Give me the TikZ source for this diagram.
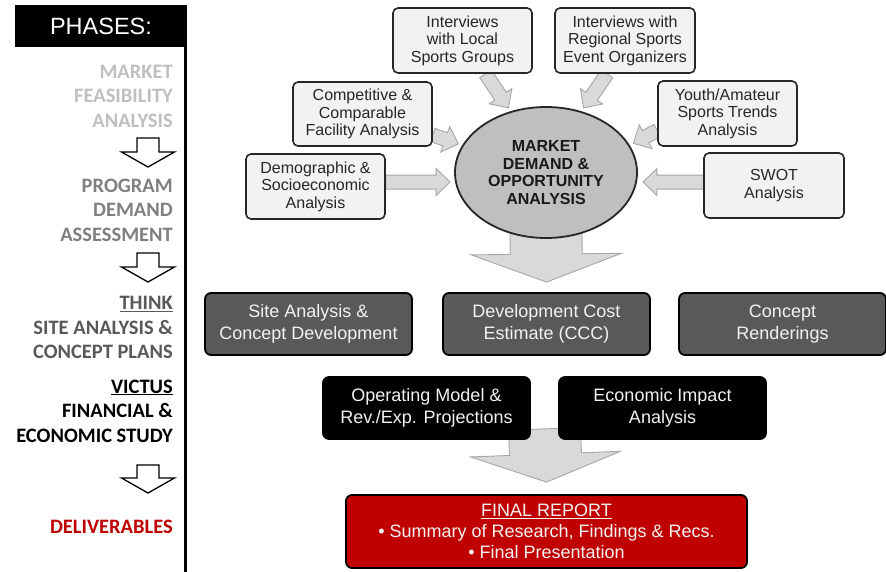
\documentclass[tikz,border=0pt]{standalone}
\usepackage{fontspec}
\setmainfont{Liberation Sans}
\newfontfamily\phasefont{Carlito}
\usetikzlibrary{calc, shapes.geometric, backgrounds}

\definecolor{boxgray}{HTML}{F2F2F2}
\definecolor{arrowgray}{HTML}{D9D9D9}
\definecolor{arrowline}{HTML}{A6A6A6}
\definecolor{ovalgray}{HTML}{BFBFBF}
\definecolor{darkbox}{HTML}{595959}
\definecolor{reportred}{HTML}{C00000}
\definecolor{phaseA}{HTML}{BFBFBF}
\definecolor{phaseB}{HTML}{7F7F7F}
\definecolor{phaseC}{HTML}{595959}

% block arrow: [style]{from}{to}{shaft half width}{head half width}{head length}
\newcommand{\blockarrow}[6][]{%
    \draw[#1] let \p1=(#2), \p2=(#3),
        \n1={atan2(\y2-\y1,\x2-\x1)}, \n2={veclen(\x2-\x1,\y2-\y1)} in
        [shift={(\p1)}, rotate=\n1]
        (0,#4) -- (\n2-#6,#4) -- (\n2-#6,#5) -- (\n2,0) -- (\n2-#6,-#5) -- (\n2-#6,-#4) -- (0,-#4) -- cycle;
}

\begin{document}
\begin{tikzpicture}[x=1pt, y=-1pt,
    inbox/.style={draw=black!85, line width=1.6pt, fill=boxgray, rounded corners=5pt,
        minimum width=139pt, minimum height=65pt, inner sep=0pt, align=center,
        text=black!85, font=\fontsize{16}{17.5}\selectfont},
    taskbox/.style={draw=black, line width=1.8pt, rounded corners=6pt,
        minimum width=207pt, minimum height=62pt, inner sep=0pt, align=center,
        text=white!95!black, font=\fontsize{18}{21.5}\selectfont},
    phase/.style={anchor=east, align=right, inner sep=0pt,
        font=\phasefont\bfseries\fontsize{20.5}{24.5}\selectfont},
    greyarrow/.style={fill=arrowgray, draw=arrowline, line width=0.9pt},
    hollow/.style={fill=white, draw=black, line width=1.3pt}]
    \useasboundingbox (0,0) rectangle (886,572);

    % phases column
    \node[fill=black, text=white, minimum width=172pt, minimum height=42pt, inner sep=0pt,
        font=\fontsize{23.5}{26}\selectfont] (phases) at (101,26) {PHASES:};
    \draw[line width=3pt] ($(phases.south east)+(-1.5,0)$) -- ++(0,525);

    \node[phase, text=phaseA] (mfa) at (173,96) {MARKET\\FEASIBILITY\\ANALYSIS};
    \node[phase, text=phaseB] (pda) at (173,210) {PROGRAM\\DEMAND\\ASSESSMENT};
    \node[phase, text=phaseC] (think) at (173,327.5) {\underline{THINK}\\SITE ANALYSIS \&\\CONCEPT PLANS};
    \node[phase, text=black] (victus) at (173,411) {\underline{VICTUS}\\FINANCIAL \&\\ECONOMIC STUDY};
    \node[phase, text=reportred] (deliv) at (173,527) {DELIVERABLES};

    \coordinate (step1a) at (148,138);
    \coordinate (step1b) at (148,167);
    \coordinate (step2a) at (148,253);
    \coordinate (step2b) at (148,282);
    \coordinate (step3a) at (148,465);
    \coordinate (step3b) at (148,493);
    \blockarrow[hollow]{step1a}{step1b}{11}{26.5}{15}
    \blockarrow[hollow]{step2a}{step2b}{11}{26.5}{15}
    \blockarrow[hollow]{step3a}{step3b}{11}{26.5}{15}

    % market demand inputs
    \node[ellipse, draw=black!85, line width=1.8pt, fill=ovalgray, minimum width=182pt,
        minimum height=131pt, inner sep=0pt, align=center, text=black!90,
        font=\bfseries\fontsize{16}{17.5}\selectfont] (mkt) at (546,172.5)
        {MARKET\\DEMAND \&\\OPPORTUNITY\\ANALYSIS};

    \node[inbox] (local) at (462.5,40.5) {Interviews\\with Local\\Sports Groups};
    \node[inbox, minimum width=140pt] (regional) at (625,40.5) {Interviews with\\Regional Sports\\Event Organizers};
    \node[inbox, minimum height=64pt] (comp) at (362.5,114) {Competitive \&\\Comparable\\Facility Analysis};
    \node[inbox] (youth) at (727.5,113.5) {Youth/Amateur\\Sports Trends\\Analysis};
    \node[inbox] (demo) at (315.5,186.5) {Demographic \&\\Socioeconomic\\Analysis};
    \node[inbox, minimum width=140pt] (swot) at (774,185.5) {SWOT\\Analysis};

    % work tasks
    \node[taskbox, fill=darkbox] (site) at (308.5,324) {Site Analysis \&\\Concept Development};
    \node[taskbox, fill=darkbox] (dev) at (546.5,324) {Development Cost\\Estimate (CCC)};
    \node[taskbox, fill=darkbox] (rend) at (782.5,324) {Concept\\Renderings};
    \node[taskbox, fill=black] (opm) at (426.5,408) {Operating Model \&\\Rev./Exp. Projections};
    \node[taskbox, fill=black] (eia) at (662.5,408) {Economic Impact\\Analysis};

    \node[taskbox, fill=reportred, minimum width=401pt, minimum height=73pt,
        font=\fontsize{18}{21}\selectfont] (report) at (546.5,531.5)
        {\underline{FINAL REPORT}\\\textbullet\ Summary of Research, Findings \& Recs.\\\textbullet\ Final Presentation};

    \coordinate (localout) at ($(local.south)+(23,0)$);
    \coordinate (regout) at ($(regional.south)+(-18,0)$);
    \coordinate (compout) at ($(comp.east)+(0,21)$);
    \coordinate (youthout) at ($(youth.west)+(0,17)$);
    \coordinate (split) at ($(opm.south east)!0.5!(eia.south west)$);

    \begin{pgfonlayer}{background}
        \blockarrow[greyarrow]{localout}{$(mkt.120)!4pt!(localout)$}{7}{13.5}{14}
        \blockarrow[greyarrow]{regout}{$(mkt.60)!4pt!(regout)$}{7}{13.5}{14}
        \blockarrow[greyarrow]{compout}{$(mkt.162)!4pt!(compout)$}{7}{13.5}{14}
        \blockarrow[greyarrow]{youthout}{$(mkt.18)!4pt!(youthout)$}{7}{13.5}{14}
        \blockarrow[greyarrow]{demo.east |- mkt.186}{$(mkt.186)+(-5,0)$}{7}{13.5}{14}
        \blockarrow[greyarrow]{swot.west |- mkt.-6}{$(mkt.-6)+(6,0)$}{7}{13.5}{14}
        \blockarrow[greyarrow]{$(mkt.south)+(0,-6)$}{$(dev.north)+(0,-10)$}{36}{75}{28}
        \blockarrow[greyarrow]{$(split)+(0,-11)$}{$(report.north)+(0,-12)$}{36}{75}{28}
    \end{pgfonlayer}
\end{tikzpicture}
\end{document}
